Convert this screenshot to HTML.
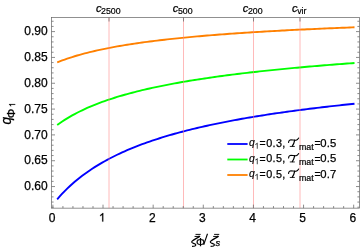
<!DOCTYPE html>
<html><head><meta charset="utf-8"><style>
html,body{margin:0;padding:0;background:#fff;}
svg{display:block;will-change:transform;font-family:"Liberation Sans",sans-serif;}
.t12{font-size:12px;fill:#000;stroke:#000;stroke-width:0.25px;}
.sub{font-size:8.8px;fill:#000;stroke:#000;stroke-width:0.2px;}
.it{font-style:italic;}
.t15{font-size:15px;fill:#000;stroke:#000;stroke-width:0.25px;}
.sub15{font-size:10.6px;}
</style></head><body>
<svg width="361" height="250" viewBox="0 0 361 250">
<rect width="361" height="250" fill="#fff"/>
<path d="M57.20,199.31 L59.70,196.45 L62.20,193.73 L64.69,191.13 L67.19,188.65 L69.69,186.28 L72.19,184.01 L74.69,181.84 L77.19,179.75 L79.68,177.74 L82.18,175.81 L84.68,173.95 L87.18,172.16 L89.68,170.43 L92.18,168.77 L94.67,167.16 L97.17,165.60 L99.67,164.09 L102.17,162.63 L104.67,161.22 L107.17,159.85 L109.66,158.52 L112.16,157.23 L114.66,155.98 L117.16,154.76 L119.66,153.58 L122.16,152.43 L124.65,151.30 L127.15,150.21 L129.65,149.15 L132.15,148.12 L134.65,147.11 L137.15,146.12 L139.64,145.16 L142.14,144.22 L144.64,143.31 L147.14,142.41 L149.64,141.54 L152.14,140.68 L154.63,139.85 L157.13,139.03 L159.63,138.23 L162.13,137.45 L164.63,136.68 L167.13,135.93 L169.62,135.20 L172.12,134.48 L174.62,133.77 L177.12,133.08 L179.62,132.40 L182.12,131.73 L184.61,131.08 L187.11,130.44 L189.61,129.81 L192.11,129.19 L194.61,128.58 L197.11,127.99 L199.60,127.40 L202.10,126.83 L204.60,126.26 L207.10,125.71 L209.60,125.16 L212.10,124.62 L214.59,124.09 L217.09,123.57 L219.59,123.06 L222.09,122.56 L224.59,122.06 L227.09,121.57 L229.58,121.09 L232.08,120.62 L234.58,120.16 L237.08,119.70 L239.58,119.25 L242.08,118.80 L244.57,118.36 L247.07,117.93 L249.57,117.50 L252.07,117.08 L254.57,116.67 L257.07,116.26 L259.56,115.86 L262.06,115.46 L264.56,115.07 L267.06,114.68 L269.56,114.30 L272.06,113.92 L274.55,113.55 L277.05,113.18 L279.55,112.82 L282.05,112.46 L284.55,112.11 L287.05,111.76 L289.54,111.42 L292.04,111.08 L294.54,110.74 L297.04,110.41 L299.54,110.08 L302.04,109.76 L304.53,109.44 L307.03,109.12 L309.53,108.81 L312.03,108.50 L314.53,108.19 L317.03,107.89 L319.52,107.59 L322.02,107.30 L324.52,107.01 L327.02,106.72 L329.52,106.43 L332.02,106.15 L334.51,105.87 L337.01,105.59 L339.51,105.32 L342.01,105.05 L344.51,104.78 L347.01,104.52 L349.50,104.26 L352.00,104.00 L354.50,103.74" fill="none" stroke="#0000ff" stroke-width="1.9" stroke-linecap="butt"/>
<path d="M57.20,125.06 L59.70,123.26 L62.20,121.55 L64.69,119.91 L67.19,118.36 L69.69,116.86 L72.19,115.44 L74.69,114.07 L77.19,112.76 L79.68,111.49 L82.18,110.28 L84.68,109.11 L87.18,107.98 L89.68,106.89 L92.18,105.84 L94.67,104.82 L97.17,103.84 L99.67,102.88 L102.17,101.96 L104.67,101.06 L107.17,100.19 L109.66,99.35 L112.16,98.53 L114.66,97.73 L117.16,96.96 L119.66,96.20 L122.16,95.47 L124.65,94.75 L127.15,94.05 L129.65,93.37 L132.15,92.71 L134.65,92.06 L137.15,91.42 L139.64,90.81 L142.14,90.20 L144.64,89.61 L147.14,89.03 L149.64,88.46 L152.14,87.91 L154.63,87.37 L157.13,86.84 L159.63,86.32 L162.13,85.81 L164.63,85.31 L167.13,84.82 L169.62,84.34 L172.12,83.86 L174.62,83.40 L177.12,82.95 L179.62,82.50 L182.12,82.06 L184.61,81.63 L187.11,81.21 L189.61,80.79 L192.11,80.39 L194.61,79.98 L197.11,79.59 L199.60,79.20 L202.10,78.82 L204.60,78.44 L207.10,78.07 L209.60,77.71 L212.10,77.35 L214.59,76.99 L217.09,76.65 L219.59,76.30 L222.09,75.97 L224.59,75.63 L227.09,75.31 L229.58,74.98 L232.08,74.66 L234.58,74.35 L237.08,74.04 L239.58,73.73 L242.08,73.43 L244.57,73.14 L247.07,72.84 L249.57,72.55 L252.07,72.27 L254.57,71.98 L257.07,71.71 L259.56,71.43 L262.06,71.16 L264.56,70.89 L267.06,70.63 L269.56,70.37 L272.06,70.11 L274.55,69.85 L277.05,69.60 L279.55,69.35 L282.05,69.11 L284.55,68.86 L287.05,68.62 L289.54,68.38 L292.04,68.15 L294.54,67.92 L297.04,67.69 L299.54,67.46 L302.04,67.23 L304.53,67.01 L307.03,66.79 L309.53,66.57 L312.03,66.36 L314.53,66.15 L317.03,65.93 L319.52,65.73 L322.02,65.52 L324.52,65.32 L327.02,65.11 L329.52,64.91 L332.02,64.71 L334.51,64.52 L337.01,64.32 L339.51,64.13 L342.01,63.94 L344.51,63.75 L347.01,63.57 L349.50,63.38 L352.00,63.20 L354.50,63.02" fill="none" stroke="#00ff00" stroke-width="1.9" stroke-linecap="butt"/>
<path d="M57.20,62.37 L59.70,61.39 L62.20,60.44 L64.69,59.54 L67.19,58.67 L69.69,57.84 L72.19,57.04 L74.69,56.27 L77.19,55.52 L79.68,54.81 L82.18,54.11 L84.68,53.45 L87.18,52.80 L89.68,52.17 L92.18,51.57 L94.67,50.98 L97.17,50.42 L99.67,49.87 L102.17,49.33 L104.67,48.81 L107.17,48.31 L109.66,47.82 L112.16,47.35 L114.66,46.88 L117.16,46.43 L119.66,46.00 L122.16,45.57 L124.65,45.15 L127.15,44.75 L129.65,44.35 L132.15,43.97 L134.65,43.59 L137.15,43.23 L139.64,42.87 L142.14,42.52 L144.64,42.17 L147.14,41.84 L149.64,41.51 L152.14,41.19 L154.63,40.88 L157.13,40.57 L159.63,40.27 L162.13,39.98 L164.63,39.69 L167.13,39.41 L169.62,39.13 L172.12,38.86 L174.62,38.60 L177.12,38.34 L179.62,38.08 L182.12,37.83 L184.61,37.58 L187.11,37.34 L189.61,37.10 L192.11,36.87 L194.61,36.64 L197.11,36.42 L199.60,36.20 L202.10,35.98 L204.60,35.77 L207.10,35.56 L209.60,35.35 L212.10,35.15 L214.59,34.95 L217.09,34.75 L219.59,34.56 L222.09,34.37 L224.59,34.18 L227.09,34.00 L229.58,33.82 L232.08,33.64 L234.58,33.46 L237.08,33.29 L239.58,33.12 L242.08,32.95 L244.57,32.79 L247.07,32.62 L249.57,32.46 L252.07,32.31 L254.57,32.15 L257.07,32.00 L259.56,31.84 L262.06,31.69 L264.56,31.55 L267.06,31.40 L269.56,31.26 L272.06,31.11 L274.55,30.97 L277.05,30.84 L279.55,30.70 L282.05,30.57 L284.55,30.43 L287.05,30.30 L289.54,30.17 L292.04,30.04 L294.54,29.92 L297.04,29.79 L299.54,29.67 L302.04,29.55 L304.53,29.43 L307.03,29.31 L309.53,29.19 L312.03,29.08 L314.53,28.96 L317.03,28.85 L319.52,28.74 L322.02,28.62 L324.52,28.52 L327.02,28.41 L329.52,28.30 L332.02,28.19 L334.51,28.09 L337.01,27.99 L339.51,27.88 L342.01,27.78 L344.51,27.68 L347.01,27.58 L349.50,27.49 L352.00,27.39 L354.50,27.29" fill="none" stroke="#ff8000" stroke-width="1.9" stroke-linecap="butt"/>

<g stroke="#ff8080" stroke-width="0.55"><line x1="109.00" y1="17.5" x2="109.00" y2="208.15"/><line x1="183.50" y1="17.5" x2="183.50" y2="208.15"/><line x1="253.50" y1="17.5" x2="253.50" y2="208.15"/><line x1="300.00" y1="17.5" x2="300.00" y2="208.15"/></g>
<g stroke="#666" stroke-width="0.75"><line x1="52.90" y1="208.15" x2="52.90" y2="204.65"/><line x1="62.93" y1="208.15" x2="62.93" y2="206.05"/><line x1="72.95" y1="208.15" x2="72.95" y2="206.05"/><line x1="82.98" y1="208.15" x2="82.98" y2="206.05"/><line x1="93.00" y1="208.15" x2="93.00" y2="206.05"/><line x1="103.03" y1="208.15" x2="103.03" y2="204.65"/><line x1="113.06" y1="208.15" x2="113.06" y2="206.05"/><line x1="123.08" y1="208.15" x2="123.08" y2="206.05"/><line x1="133.11" y1="208.15" x2="133.11" y2="206.05"/><line x1="143.13" y1="208.15" x2="143.13" y2="206.05"/><line x1="153.16" y1="208.15" x2="153.16" y2="204.65"/><line x1="163.19" y1="208.15" x2="163.19" y2="206.05"/><line x1="173.21" y1="208.15" x2="173.21" y2="206.05"/><line x1="183.24" y1="208.15" x2="183.24" y2="206.05"/><line x1="193.26" y1="208.15" x2="193.26" y2="206.05"/><line x1="203.29" y1="208.15" x2="203.29" y2="204.65"/><line x1="213.32" y1="208.15" x2="213.32" y2="206.05"/><line x1="223.34" y1="208.15" x2="223.34" y2="206.05"/><line x1="233.37" y1="208.15" x2="233.37" y2="206.05"/><line x1="243.39" y1="208.15" x2="243.39" y2="206.05"/><line x1="253.42" y1="208.15" x2="253.42" y2="204.65"/><line x1="263.45" y1="208.15" x2="263.45" y2="206.05"/><line x1="273.47" y1="208.15" x2="273.47" y2="206.05"/><line x1="283.50" y1="208.15" x2="283.50" y2="206.05"/><line x1="293.52" y1="208.15" x2="293.52" y2="206.05"/><line x1="303.55" y1="208.15" x2="303.55" y2="204.65"/><line x1="313.58" y1="208.15" x2="313.58" y2="206.05"/><line x1="323.60" y1="208.15" x2="323.60" y2="206.05"/><line x1="333.63" y1="208.15" x2="333.63" y2="206.05"/><line x1="343.65" y1="208.15" x2="343.65" y2="206.05"/><line x1="353.68" y1="208.15" x2="353.68" y2="204.65"/><line x1="51.5" y1="207.21" x2="53.6" y2="207.21"/><line x1="359.5" y1="207.21" x2="357.4" y2="207.21"/><line x1="51.5" y1="202.05" x2="53.6" y2="202.05"/><line x1="359.5" y1="202.05" x2="357.4" y2="202.05"/><line x1="51.5" y1="196.88" x2="53.6" y2="196.88"/><line x1="359.5" y1="196.88" x2="357.4" y2="196.88"/><line x1="51.5" y1="191.72" x2="53.6" y2="191.72"/><line x1="359.5" y1="191.72" x2="357.4" y2="191.72"/><line x1="51.5" y1="186.55" x2="55.0" y2="186.55"/><line x1="359.5" y1="186.55" x2="356.0" y2="186.55"/><line x1="51.5" y1="181.39" x2="53.6" y2="181.39"/><line x1="359.5" y1="181.39" x2="357.4" y2="181.39"/><line x1="51.5" y1="176.22" x2="53.6" y2="176.22"/><line x1="359.5" y1="176.22" x2="357.4" y2="176.22"/><line x1="51.5" y1="171.06" x2="53.6" y2="171.06"/><line x1="359.5" y1="171.06" x2="357.4" y2="171.06"/><line x1="51.5" y1="165.89" x2="53.6" y2="165.89"/><line x1="359.5" y1="165.89" x2="357.4" y2="165.89"/><line x1="51.5" y1="160.72" x2="55.0" y2="160.72"/><line x1="359.5" y1="160.72" x2="356.0" y2="160.72"/><line x1="51.5" y1="155.56" x2="53.6" y2="155.56"/><line x1="359.5" y1="155.56" x2="357.4" y2="155.56"/><line x1="51.5" y1="150.39" x2="53.6" y2="150.39"/><line x1="359.5" y1="150.39" x2="357.4" y2="150.39"/><line x1="51.5" y1="145.23" x2="53.6" y2="145.23"/><line x1="359.5" y1="145.23" x2="357.4" y2="145.23"/><line x1="51.5" y1="140.07" x2="53.6" y2="140.07"/><line x1="359.5" y1="140.07" x2="357.4" y2="140.07"/><line x1="51.5" y1="134.90" x2="55.0" y2="134.90"/><line x1="359.5" y1="134.90" x2="356.0" y2="134.90"/><line x1="51.5" y1="129.74" x2="53.6" y2="129.74"/><line x1="359.5" y1="129.74" x2="357.4" y2="129.74"/><line x1="51.5" y1="124.57" x2="53.6" y2="124.57"/><line x1="359.5" y1="124.57" x2="357.4" y2="124.57"/><line x1="51.5" y1="119.41" x2="53.6" y2="119.41"/><line x1="359.5" y1="119.41" x2="357.4" y2="119.41"/><line x1="51.5" y1="114.24" x2="53.6" y2="114.24"/><line x1="359.5" y1="114.24" x2="357.4" y2="114.24"/><line x1="51.5" y1="109.08" x2="55.0" y2="109.08"/><line x1="359.5" y1="109.08" x2="356.0" y2="109.08"/><line x1="51.5" y1="103.91" x2="53.6" y2="103.91"/><line x1="359.5" y1="103.91" x2="357.4" y2="103.91"/><line x1="51.5" y1="98.75" x2="53.6" y2="98.75"/><line x1="359.5" y1="98.75" x2="357.4" y2="98.75"/><line x1="51.5" y1="93.58" x2="53.6" y2="93.58"/><line x1="359.5" y1="93.58" x2="357.4" y2="93.58"/><line x1="51.5" y1="88.41" x2="53.6" y2="88.41"/><line x1="359.5" y1="88.41" x2="357.4" y2="88.41"/><line x1="51.5" y1="83.25" x2="55.0" y2="83.25"/><line x1="359.5" y1="83.25" x2="356.0" y2="83.25"/><line x1="51.5" y1="78.08" x2="53.6" y2="78.08"/><line x1="359.5" y1="78.08" x2="357.4" y2="78.08"/><line x1="51.5" y1="72.92" x2="53.6" y2="72.92"/><line x1="359.5" y1="72.92" x2="357.4" y2="72.92"/><line x1="51.5" y1="67.76" x2="53.6" y2="67.76"/><line x1="359.5" y1="67.76" x2="357.4" y2="67.76"/><line x1="51.5" y1="62.59" x2="53.6" y2="62.59"/><line x1="359.5" y1="62.59" x2="357.4" y2="62.59"/><line x1="51.5" y1="57.43" x2="55.0" y2="57.43"/><line x1="359.5" y1="57.43" x2="356.0" y2="57.43"/><line x1="51.5" y1="52.26" x2="53.6" y2="52.26"/><line x1="359.5" y1="52.26" x2="357.4" y2="52.26"/><line x1="51.5" y1="47.10" x2="53.6" y2="47.10"/><line x1="359.5" y1="47.10" x2="357.4" y2="47.10"/><line x1="51.5" y1="41.93" x2="53.6" y2="41.93"/><line x1="359.5" y1="41.93" x2="357.4" y2="41.93"/><line x1="51.5" y1="36.77" x2="53.6" y2="36.77"/><line x1="359.5" y1="36.77" x2="357.4" y2="36.77"/><line x1="51.5" y1="31.60" x2="55.0" y2="31.60"/><line x1="359.5" y1="31.60" x2="356.0" y2="31.60"/><line x1="51.5" y1="26.43" x2="53.6" y2="26.43"/><line x1="359.5" y1="26.43" x2="357.4" y2="26.43"/><line x1="51.5" y1="21.27" x2="53.6" y2="21.27"/><line x1="359.5" y1="21.27" x2="357.4" y2="21.27"/><line x1="109.00" y1="17.5" x2="109.00" y2="21.5"/><line x1="183.50" y1="17.5" x2="183.50" y2="21.5"/><line x1="253.50" y1="17.5" x2="253.50" y2="21.5"/><line x1="300.00" y1="17.5" x2="300.00" y2="21.5"/></g>
<rect x="51.5" y="17.5" width="308.0" height="190.65" fill="none" stroke="#666" stroke-width="0.72"/>
<text x="108.25" y="12" text-anchor="middle" class="t12"><tspan class="it" style="font-size:11px">c</tspan><tspan class="sub" dx="-0.4" dy="1.8">2500</tspan></text><text x="182.75" y="12" text-anchor="middle" class="t12"><tspan class="it" style="font-size:11px">c</tspan><tspan class="sub" dx="-0.4" dy="1.8">500</tspan></text><text x="252.75" y="12" text-anchor="middle" class="t12"><tspan class="it" style="font-size:11px">c</tspan><tspan class="sub" dx="-0.4" dy="1.8">200</tspan></text><text x="299.25" y="12" text-anchor="middle" class="t12"><tspan class="it" style="font-size:11px">c</tspan><tspan class="sub" dx="-0.4" dy="1.8">vir</tspan></text>
<text x="52.00" y="221.6" text-anchor="middle" class="t12">0</text><path transform="translate(98.79,221.60) scale(0.005859,-0.005859)" d="M763,0H583V1147Q518,1085 412.5,1023Q307,961 223,930V1104Q374,1175 487,1276Q600,1377 647,1472H763Z" fill="#000" stroke="#000" stroke-width="34.1"/><text x="152.26" y="221.6" text-anchor="middle" class="t12">2</text><text x="202.39" y="221.6" text-anchor="middle" class="t12">3</text><text x="252.52" y="221.6" text-anchor="middle" class="t12">4</text><text x="302.65" y="221.6" text-anchor="middle" class="t12">5</text><text x="352.78" y="221.6" text-anchor="middle" class="t12">6</text>
<text x="47.6" y="190.25" text-anchor="end" class="t12">0.60</text><text x="47.6" y="164.42" text-anchor="end" class="t12">0.65</text><text x="47.6" y="138.60" text-anchor="end" class="t12">0.70</text><text x="47.6" y="112.78" text-anchor="end" class="t12">0.75</text><text x="47.6" y="86.95" text-anchor="end" class="t12">0.80</text><text x="47.6" y="61.13" text-anchor="end" class="t12">0.85</text><text x="47.6" y="35.30" text-anchor="end" class="t12">0.90</text>
<line x1="227.3" y1="144.00" x2="247.6" y2="144.00" stroke="#0000ff" stroke-width="1.8"/><text x="249.0" y="146.40" class="t12 it" style="font-size:10.4px;stroke-width:0.15px">q</text><path transform="translate(254.50,148.70) scale(0.004004,-0.004004)" d="M763,0H583V1147Q518,1085 412.5,1023Q307,961 223,930V1104Q374,1175 487,1276Q600,1377 647,1472H763Z" fill="#000" stroke="#000" stroke-width="0.0"/><text x="259.5" y="147.40" class="t12" style="font-size:10.4px;stroke-width:0.3px">=</text><text x="266.3" y="146.90" class="t12" style="font-size:10.8px;letter-spacing:0.3px;stroke-width:0.25px">0.3,</text><g transform="translate(288.8,147.1)" fill="none" stroke="#000" stroke-linecap="round"><path d="M-0.2,-4.6 C-0.2,-6.0 0.4,-7.1 1.6,-7.2 C3.5,-7.3 5.5,-6.7 7.3,-6.95 C8.6,-7.2 9.3,-8.1 9.9,-9.1" stroke-width="1.05"/><path d="M5.9,-7.0 C5.5,-4.8 4.6,-2.6 3.5,-1.0" stroke-width="1.2"/><path d="M1.4,-0.65 L5.6,-0.65" stroke-width="0.85"/></g><text x="299" y="149.5" class="sub">mat</text><text x="314.5" y="147.40" class="t12" style="font-size:10.4px;stroke-width:0.3px">=</text><text x="320.3" y="146.90" class="t12" style="font-size:11.3px;letter-spacing:0.1px;stroke-width:0.25px">0.5</text><line x1="227.3" y1="159.50" x2="247.6" y2="159.50" stroke="#00ff00" stroke-width="1.8"/><text x="249.0" y="161.90" class="t12 it" style="font-size:10.4px;stroke-width:0.15px">q</text><path transform="translate(254.50,164.20) scale(0.004004,-0.004004)" d="M763,0H583V1147Q518,1085 412.5,1023Q307,961 223,930V1104Q374,1175 487,1276Q600,1377 647,1472H763Z" fill="#000" stroke="#000" stroke-width="0.0"/><text x="259.5" y="162.90" class="t12" style="font-size:10.4px;stroke-width:0.3px">=</text><text x="266.3" y="162.40" class="t12" style="font-size:10.8px;letter-spacing:0.3px;stroke-width:0.25px">0.5,</text><g transform="translate(288.8,162.6)" fill="none" stroke="#000" stroke-linecap="round"><path d="M-0.2,-4.6 C-0.2,-6.0 0.4,-7.1 1.6,-7.2 C3.5,-7.3 5.5,-6.7 7.3,-6.95 C8.6,-7.2 9.3,-8.1 9.9,-9.1" stroke-width="1.05"/><path d="M5.9,-7.0 C5.5,-4.8 4.6,-2.6 3.5,-1.0" stroke-width="1.2"/><path d="M1.4,-0.65 L5.6,-0.65" stroke-width="0.85"/></g><text x="299" y="165.0" class="sub">mat</text><text x="314.5" y="162.90" class="t12" style="font-size:10.4px;stroke-width:0.3px">=</text><text x="320.3" y="162.40" class="t12" style="font-size:11.3px;letter-spacing:0.1px;stroke-width:0.25px">0.5</text><line x1="227.3" y1="175.00" x2="247.6" y2="175.00" stroke="#ff8000" stroke-width="1.8"/><text x="249.0" y="177.40" class="t12 it" style="font-size:10.4px;stroke-width:0.15px">q</text><path transform="translate(254.50,179.70) scale(0.004004,-0.004004)" d="M763,0H583V1147Q518,1085 412.5,1023Q307,961 223,930V1104Q374,1175 487,1276Q600,1377 647,1472H763Z" fill="#000" stroke="#000" stroke-width="0.0"/><text x="259.5" y="178.40" class="t12" style="font-size:10.4px;stroke-width:0.3px">=</text><text x="266.3" y="177.90" class="t12" style="font-size:10.8px;letter-spacing:0.3px;stroke-width:0.25px">0.5,</text><g transform="translate(288.8,178.1)" fill="none" stroke="#000" stroke-linecap="round"><path d="M-0.2,-4.6 C-0.2,-6.0 0.4,-7.1 1.6,-7.2 C3.5,-7.3 5.5,-6.7 7.3,-6.95 C8.6,-7.2 9.3,-8.1 9.9,-9.1" stroke-width="1.05"/><path d="M5.9,-7.0 C5.5,-4.8 4.6,-2.6 3.5,-1.0" stroke-width="1.2"/><path d="M1.4,-0.65 L5.6,-0.65" stroke-width="0.85"/></g><text x="299" y="180.5" class="sub">mat</text><text x="314.5" y="178.40" class="t12" style="font-size:10.4px;stroke-width:0.3px">=</text><text x="320.3" y="177.90" class="t12" style="font-size:11.3px;letter-spacing:0.1px;stroke-width:0.25px">0.7</text>
<path d="M195.52,234.40 L200.64,234.40 M194.56,236.44 L199.68,236.44" fill="none" stroke="#000" stroke-width="0.95"/><path d="M198.40,236.44 L199.68,236.44 C197.60,237.88 194.00,239.40 192.16,241.16 C191.20,242.28 192.00,242.92 193.44,243.32 C194.80,243.72 196.00,244.04 195.84,245.00 C195.68,245.96 194.00,246.44 192.00,246.44" fill="none" stroke="#000" stroke-width="1.2" stroke-linejoin="round"/><path d="M214.12,234.40 L219.24,234.40 M213.16,236.44 L218.28,236.44" fill="none" stroke="#000" stroke-width="0.95"/><path d="M217.00,236.44 L218.28,236.44 C216.20,237.88 212.60,239.40 210.76,241.16 C209.80,242.28 210.60,242.92 212.04,243.32 C213.40,243.72 214.60,244.04 214.44,245.00 C214.28,245.96 212.60,246.44 210.60,246.44" fill="none" stroke="#000" stroke-width="1.2" stroke-linejoin="round"/>
<text x="0" y="0" font-size="11.3" transform="translate(195.9,245.7) scale(1.0,1)" fill="#000" stroke="#000" stroke-width="0.25">Φ</text>
<line x1="207.5" y1="233.7" x2="203.7" y2="244.9" stroke="#000" stroke-width="1.1"/>
<text x="215.4" y="246.2" font-size="9.4" font-style="italic" fill="#000" stroke="#000" stroke-width="0.25">s</text>
<g transform="translate(11.4,124.5) rotate(-90)" fill="#000">
<text x="0" y="0" font-size="15" font-style="italic" transform="scale(0.9,1)" stroke="#000" stroke-width="0.3">q</text>
<text x="0" y="0" font-size="10.8" transform="translate(6.3,3.3) scale(1.1,1)" stroke="#000" stroke-width="0.3">Φ</text>
<path transform="translate(17.30,3.80) scale(0.004199,-0.004199)" d="M763,0H583V1147Q518,1085 412.5,1023Q307,961 223,930V1104Q374,1175 487,1276Q600,1377 647,1472H763Z" fill="#000" stroke="#000" stroke-width="35.7"/>
</g>
</svg>
</body></html>
